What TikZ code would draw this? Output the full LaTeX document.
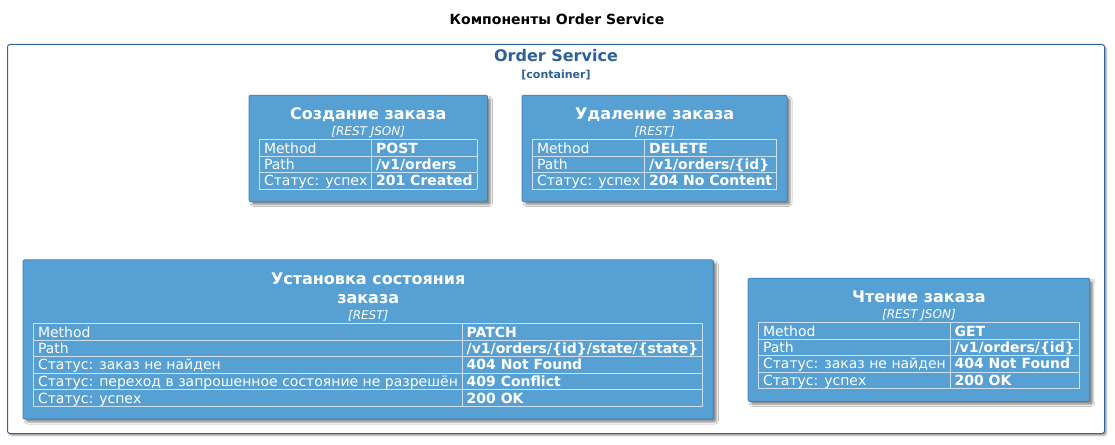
\documentclass[tikz,border=0pt]{standalone}
\usepackage{fontspec}
\setmainfont{DejaVu Sans}
\usepackage{array}
\usepackage{colortbl}
\usepackage{tikz}
\usetikzlibrary{positioning, fit, backgrounds, shadows.blur}

\definecolor{compFill}{RGB}{87,160,211}
\definecolor{compLine}{RGB}{62,128,190}
\definecolor{tblLine}{RGB}{205,225,242}
\definecolor{contLine}{RGB}{46,98,150}

% строка таблицы: высота и положение базовой линии
\newcommand{\tblstrut}{\rule[-2.6pt]{0pt}{15.6pt}}
\newcommand{\opstable}[1]{{\renewcommand{\arraystretch}{0}%
  \setlength{\tabcolsep}{4pt}\setlength{\arrayrulewidth}{0.8pt}\arrayrulecolor{tblLine}%
  \begin{tabular}{|>{\tblstrut}l|>{\bfseries}l|}\hline #1\end{tabular}}}

\begin{document}
\begin{tikzpicture}[
        x=1pt, y=-1pt,
        comp/.style={draw=compLine, fill=compFill, line width=0.8pt, rounded corners=2pt,
            inner xsep=10pt, inner ysep=12pt,
            blur shadow={shadow xshift=3pt, shadow yshift=-3pt, shadow blur radius=2pt, shadow opacity=45}}, % компонент
        comptitle/.style={inner sep=0pt, text=white, text height=12pt, text depth=3.5pt,
            font=\fontsize{16}{19}\selectfont\bfseries}, % имя компонента
        stereo/.style={inner sep=0pt, text=white, text height=9pt, text depth=2pt,
            font=\fontsize{12}{14}\selectfont\itshape}, % технология
        tbl/.style={inner sep=0pt, text=white, anchor=north west,
            font=\fontsize{14}{16}\selectfont} % таблица
    ]
        \useasboundingbox (0,0) rectangle (1115,444);

        % --- Заголовок диаграммы ---
        \node[font=\fontsize{14}{17}\selectfont\bfseries] (diagTitle) at (557,19) {Компоненты Order Service};

        % --- Подпись контейнера ---
        \node[text=contLine, font=\fontsize{16}{19}\selectfont\bfseries] (serviceName) at (556,56) {Order Service};
        \node[text=contLine, font=\fontsize{11}{13}\selectfont\bfseries, below=0.5pt of serviceName] (serviceKind) {[container]};

        % --- Создание заказа ---
        \node[tbl] (createTab) at (259,139) {\opstable{
            Method & POST\\\hline
            Path & /v1/orders\\\hline
            Статус: успех & 201 Created\\\hline}};
        \node[stereo, above=1pt of createTab] (createStereo) {[REST JSON]};
        \node[comptitle, above=3.5pt of createStereo] (createTitle) {Создание заказа};

        % --- Удаление заказа ---
        \node[tbl] (deleteTab) at (532,139) {\opstable{
            Method & DELETE\\\hline
            Path & /v1/orders/\{id\}\\\hline
            Статус: успех & 204 No Content\\\hline}};
        \node[stereo, above=1pt of deleteTab] (deleteStereo) {[REST]};
        \node[comptitle, above=3.5pt of deleteStereo] (deleteTitle) {Удаление заказа};

        % --- Установка состояния заказа ---
        \node[tbl] (stateTab) at (33,323) {\opstable{
            Method & PATCH\\\hline
            Path & /v1/orders/\{id\}/state/\{state\}\\\hline
            Статус: заказ не найден & 404 Not Found\\\hline
            Статус: переход в запрошенное состояние не разрешён & 409 Conflict\\\hline
            Статус: успех & 200 OK\\\hline}};
        \node[stereo, above=1pt of stateTab] (stateStereo) {[REST]};
        \node[comptitle, above=3.5pt of stateStereo] (stateTitleB) {заказа};
        \node[comptitle, above=3.5pt of stateTitleB] (stateTitleA) {Установка состояния};

        % --- Чтение заказа ---
        \node[tbl] (readTab) at (758,322) {\opstable{
            Method & GET\\\hline
            Path & /v1/orders/\{id\}\\\hline
            Статус: заказ не найден & 404 Not Found\\\hline
            Статус: успех & 200 OK\\\hline}};
        \node[stereo, above=1pt of readTab] (readStereo) {[REST JSON]};
        \node[comptitle, above=3.5pt of readStereo] (readTitle) {Чтение заказа};

        % --- Контейнер и рамки компонентов (под текстом) ---
        \begin{scope}[on background layer]
            \node[draw=contLine, fill=white, line width=1pt, rounded corners=2.5pt, anchor=north west,
                minimum width=1097pt, minimum height=389pt,
                blur shadow={shadow xshift=2pt, shadow yshift=-2pt, shadow blur radius=1.5pt, shadow opacity=35}]
                (orderService) at (7,44) {};
            \node[comp, fit=(createTitle)(createTab)] (create) {};
            \node[comp, fit=(deleteTitle)(deleteTab)] (delete) {};
            \node[comp, fit=(stateTitleA)(stateTab)] (setState) {};
            \node[comp, fit=(readTitle)(readTab)] (read) {};
        \end{scope}
    \end{tikzpicture}
\end{document}
